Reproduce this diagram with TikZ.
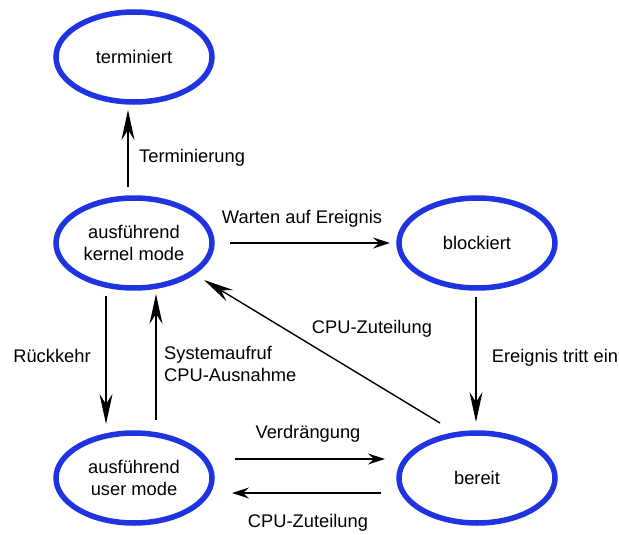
\documentclass[tikz,border=0pt]{standalone}
\usepackage{fontspec}
\setmainfont{Liberation Sans}
\usetikzlibrary{arrows.meta,shapes.geometric}
\definecolor{stateblue}{RGB}{31,51,224}
\begin{document}
\begin{tikzpicture}[x=1pt,y=-1pt,
  state/.style={draw=stateblue,line width=5.5pt,ellipse,minimum width=156pt,minimum height=90pt,inner sep=0pt,align=center,font=\fontsize{18.3pt}{21.5pt}\selectfont},
  lbl/.style={font=\fontsize{18.3pt}{22pt}\selectfont,inner sep=0pt},
  bigarr/.style={line width=1.6pt,-{Stealth[length=30pt,width=13pt,inset=10pt]}},
  smallarr/.style={line width=1.6pt,-{Stealth[length=17pt,width=11pt,inset=6pt]}}]
\useasboundingbox (0,0) rectangle (619,535);
\node[state] (term) at (134,57) {terminiert};
\node[state] (kern) at (134,243) {ausführend\\kernel mode};
\node[state] (block) at (477,243) {blockiert};
\node[state] (user) at (134,478) {ausführend\\user mode};
\node[state] (ready) at (477,478) {bereit};

\coordinate (kTop) at (128,187);
\coordinate (tBot) at (128,110);
\draw[bigarr] (kTop) -- (tBot);
\node[lbl,anchor=west] (lTerm) at (139,158) {Terminierung};

\coordinate (wA) at (230,243);
\coordinate (wB) at (390,243);
\draw[smallarr] (wA) -- (wB);
\node[lbl] (lWait) at (302,219) {Warten auf Ereignis};

\coordinate (bA) at (476,297);
\coordinate (bB) at (476,422);
\draw[bigarr] (bA) -- (bB);
\node[lbl] (lEvent) at (555,358) {Ereignis tritt ein};

\coordinate (cA) at (440,423);
\coordinate (cB) at (204,280);
\draw[bigarr,line width=1.4pt] (cA) -- (cB);
\node[lbl] (lCpu1) at (372,329) {CPU-Zuteilung};

\coordinate (rA) at (106,296);
\coordinate (rB) at (106,424);
\draw[bigarr] (rA) -- (rB);
\node[lbl] (lRet) at (52,356) {Rückkehr};

\coordinate (sA) at (156,420);
\coordinate (sB) at (156,294);
\draw[bigarr] (sA) -- (sB);
\node[lbl,anchor=west,align=left] (lSys) at (164,364) {Systemaufruf\\CPU-Ausnahme};

\coordinate (vA) at (235,459);
\coordinate (vB) at (385,459);
\draw[smallarr] (vA) -- (vB);
\node[lbl] (lPre) at (308,434) {Verdrängung};

\coordinate (zA) at (381,493);
\coordinate (zB) at (232,493);
\draw[smallarr] (zA) -- (zB);
\node[lbl] (lCpu2) at (308,523) {CPU-Zuteilung};
\end{tikzpicture}
\end{document}
